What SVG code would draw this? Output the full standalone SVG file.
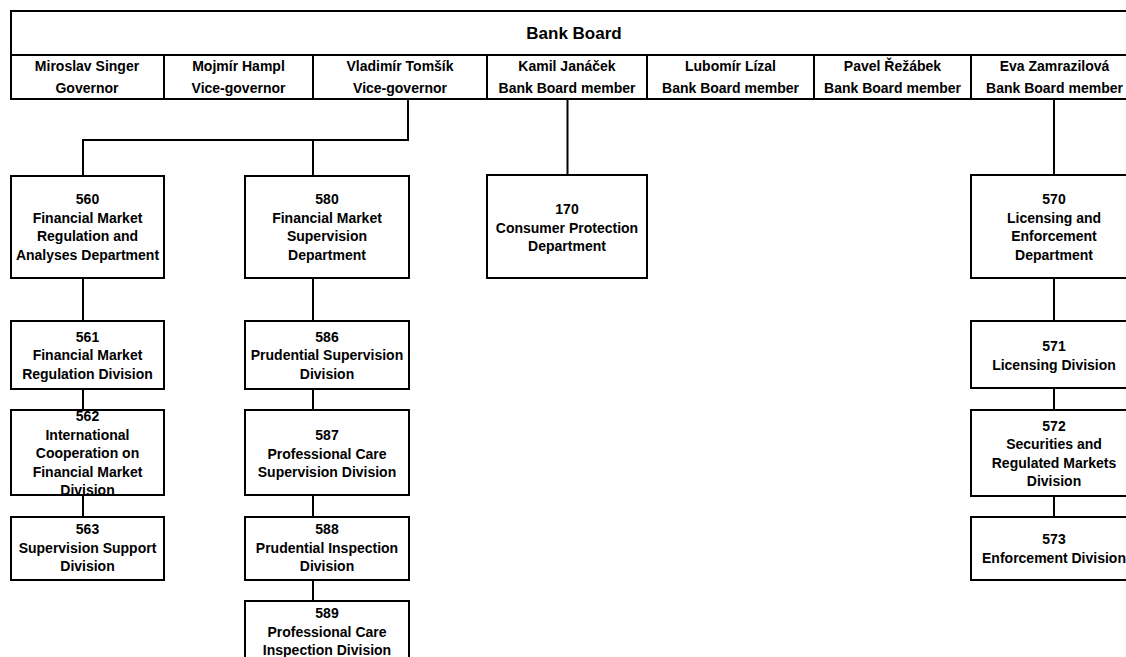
<svg xmlns="http://www.w3.org/2000/svg" width="1126" height="657" viewBox="0 0 1126 657">
<style>
.b{fill:#fff;stroke:#000;stroke-width:2}
.l{fill:none;stroke:#000;stroke-width:2}
text{font-family:"Liberation Sans",Arial,sans-serif;font-weight:bold;font-size:14px;fill:#000;text-anchor:middle}
.t{font-size:17px}
</style>
<rect width="1126" height="657" fill="#fff"/>
<g id="board">
<rect class="b" x="11" y="11" width="1127" height="88"/>
<line class="l" x1="11" y1="55" x2="1138" y2="55"/>
<line class="l" x1="164" y1="55" x2="164" y2="99"/>
<line class="l" x1="313" y1="55" x2="313" y2="99"/>
<line class="l" x1="487" y1="55" x2="487" y2="99"/>
<line class="l" x1="647" y1="55" x2="647" y2="99"/>
<line class="l" x1="814" y1="55" x2="814" y2="99"/>
<line class="l" x1="971" y1="55" x2="971" y2="99"/>
<text class="t" x="574" y="39">Bank Board</text>
<text x="87" y="71">Miroslav Singer</text><text x="87" y="93">Governor</text>
<text x="238.5" y="71">Mojmír Hampl</text><text x="238.5" y="93">Vice-governor</text>
<text x="400" y="71">Vladimír Tomšík</text><text x="400" y="93">Vice-governor</text>
<text x="567" y="71">Kamil Janáček</text><text x="567" y="93">Bank Board member</text>
<text x="730.5" y="71">Lubomír Lízal</text><text x="730.5" y="93">Bank Board member</text>
<text x="892.5" y="71">Pavel Řežábek</text><text x="892.5" y="93">Bank Board member</text>
<text x="1054.5" y="71">Eva Zamrazilová</text><text x="1054.5" y="93">Bank Board member</text>
</g>
<g id="connectors">
<polyline class="l" points="408,99 408,140 83,140 83,176"/>
<line class="l" x1="313" y1="140" x2="313" y2="176"/>
<line class="l" x1="567.5" y1="99" x2="567.5" y2="175"/>
<line class="l" x1="1054" y1="99" x2="1054" y2="175"/>
<line class="l" x1="83" y1="278" x2="83" y2="321"/>
<line class="l" x1="83" y1="389" x2="83" y2="410"/>
<line class="l" x1="83" y1="495" x2="83" y2="517"/>
<line class="l" x1="313" y1="278" x2="313" y2="321"/>
<line class="l" x1="313" y1="389" x2="313" y2="410"/>
<line class="l" x1="313" y1="495" x2="313" y2="517"/>
<line class="l" x1="313" y1="580" x2="313" y2="601"/>
<line class="l" x1="1054" y1="278" x2="1054" y2="321"/>
<line class="l" x1="1054" y1="388" x2="1054" y2="410"/>
<line class="l" x1="1054" y1="496" x2="1054" y2="517"/>
</g>
<g id="n560"><rect class="b" x="11" y="176" width="153" height="102"/>
<text x="87.5" y="204">560</text><text x="87.5" y="222.5">Financial Market</text><text x="87.5" y="241">Regulation and</text><text x="87.5" y="259.5">Analyses Department</text></g>
<g id="n580"><rect class="b" x="245" y="176" width="164" height="102"/>
<text x="327" y="204">580</text><text x="327" y="222.5">Financial Market</text><text x="327" y="241">Supervision</text><text x="327" y="259.5">Department</text></g>
<g id="n170"><rect class="b" x="487" y="175" width="160" height="103"/>
<text x="567" y="214">170</text><text x="567" y="232.5">Consumer Protection</text><text x="567" y="251">Department</text></g>
<g id="n570"><rect class="b" x="971" y="175" width="166" height="103"/>
<text x="1054" y="204">570</text><text x="1054" y="222.5">Licensing and</text><text x="1054" y="241">Enforcement</text><text x="1054" y="259.5">Department</text></g>
<g id="n561"><rect class="b" x="11" y="321" width="153" height="68"/>
<text x="87.5" y="341.5">561</text><text x="87.5" y="360">Financial Market</text><text x="87.5" y="378.5">Regulation Division</text></g>
<g id="n562"><rect class="b" x="11" y="410" width="153" height="85"/>
<text x="87.5" y="421">562</text><text x="87.5" y="439.5">International</text><text x="87.5" y="458">Cooperation on</text><text x="87.5" y="476.5">Financial Market</text><text x="87.5" y="495">Division</text></g>
<g id="n563"><rect class="b" x="11" y="517" width="153" height="63"/>
<text x="87.5" y="534">563</text><text x="87.5" y="552.5">Supervision Support</text><text x="87.5" y="571">Division</text></g>
<g id="n586"><rect class="b" x="245" y="321" width="164" height="68"/>
<text x="327" y="341.5">586</text><text x="327" y="360">Prudential Supervision</text><text x="327" y="378.5">Division</text></g>
<g id="n587"><rect class="b" x="245" y="410" width="164" height="85"/>
<text x="327" y="440">587</text><text x="327" y="458.5">Professional Care</text><text x="327" y="477">Supervision Division</text></g>
<g id="n588"><rect class="b" x="245" y="517" width="164" height="63"/>
<text x="327" y="534">588</text><text x="327" y="552.5">Prudential Inspection</text><text x="327" y="571">Division</text></g>
<g id="n589"><rect class="b" x="245" y="601" width="164" height="70"/>
<text x="327" y="618">589</text><text x="327" y="636.5">Professional Care</text><text x="327" y="655">Inspection Division</text></g>
<g id="n571"><rect class="b" x="971" y="321" width="166" height="67"/>
<text x="1054" y="351">571</text><text x="1054" y="369.5">Licensing Division</text></g>
<g id="n572"><rect class="b" x="971" y="410" width="166" height="86"/>
<text x="1054" y="430.5">572</text><text x="1054" y="449">Securities and</text><text x="1054" y="467.5">Regulated Markets</text><text x="1054" y="486">Division</text></g>
<g id="n573"><rect class="b" x="971" y="517" width="166" height="63"/>
<text x="1054" y="544">573</text><text x="1054" y="562.5">Enforcement Division</text></g>
</svg>
